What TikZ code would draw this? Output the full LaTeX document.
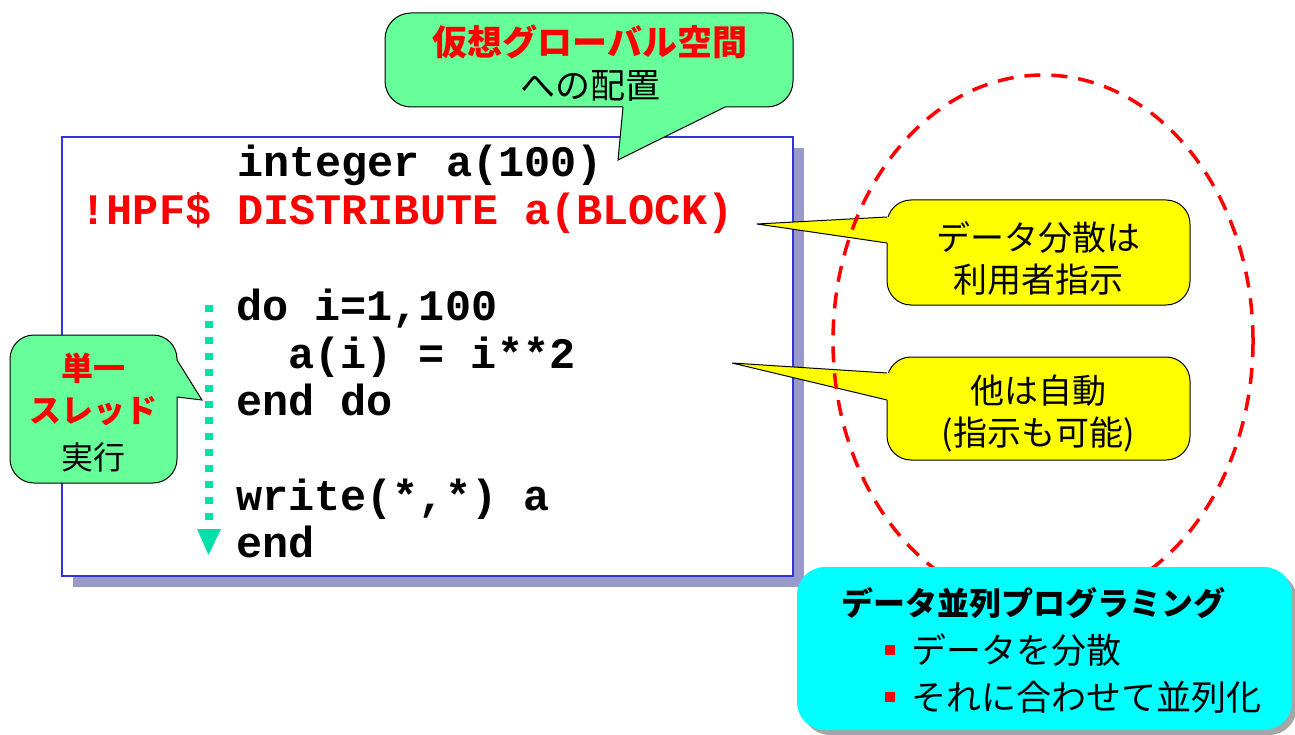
\documentclass[tikz,border=0pt]{standalone}
\usepackage{fontspec}
\setmainfont{Liberation Sans}
\newfontfamily\jp{Noto Sans CJK JP}
\newfontfamily\mono{Liberation Mono}
\definecolor{callgreen}{HTML}{66FF99}
\definecolor{callyellow}{HTML}{FFFF00}
\definecolor{callcyan}{HTML}{00FFFF}
\definecolor{arrowteal}{HTML}{00E0A8}
\definecolor{boxshadow}{HTML}{9999CC}
\definecolor{boxblue}{HTML}{3333DD}
\definecolor{ellred}{HTML}{FF0000}
\begin{document}
\begin{tikzpicture}[x=1pt,y=-1pt,
  codeline/.style={anchor=base west, inner sep=0pt, font=\mono\bfseries\fontsize{43.5}{44}\selectfont},
  jptext/.style={inner sep=0pt, font=\jp\fontsize{#1}{#1}\selectfont},
  jpbold/.style={inner sep=0pt, font=\jp\bfseries\fontsize{#1}{#1}\selectfont},
  calloutbody/.style={draw=black, line width=1pt, fill=#1, rounded corners=26pt},
  tailfill/.style={fill=#1},
  tailline/.style={draw=black, line width=1pt, line join=miter},
]
\useasboundingbox (0,0) rectangle (1295,735);

% ---------- code box ----------
\fill[boxshadow] (73,148) rectangle (804,587);
\draw[boxblue, fill=white, line width=1.2pt] (62,137) rectangle (793,576);

\node[codeline] (l1) at (237,177) {integer a(100)};
\node[codeline, text=red] (l2) at (80.5,225) {!HPF\$ DISTRIBUTE a(BLOCK)};
\node[codeline] (l3) at (236,320) {do i=1,100};
\node[codeline] (l4) at (288,368) {a(i) = i**2};
\node[codeline] (l5) at (236,415) {end do};
\node[codeline] (l6) at (236,510) {write(*,*) a};
\node[codeline] (l7) at (236,557) {end};

% ---------- dotted arrow ----------
\coordinate (arS) at (208.5,305);
\coordinate (arE) at (208.5,530);
\coordinate (arT) at (208.5,555);
\draw[arrowteal, line width=8pt, dash pattern=on 7pt off 9pt] (arS) -- (arE);
\fill[arrowteal] (197,529) -- (221,529) -- (arT) -- cycle;

% ---------- top green callout ----------
\coordinate (tA) at (623,107);
\coordinate (tB) at (725,107);
\coordinate (tTip) at (618,160);
\draw[calloutbody=callgreen] (385,13) rectangle (793,107);
\fill[callgreen] (tA) -- (tTip) -- (tB) -- (725,104) -- (623,104) -- cycle;
\draw[tailline] (tA) -- (tTip) -- (tB);
\node[jpbold=35, text=red] (top1) at (590,42) {仮想グローバル空間};
\node[jptext=35] (top2) at (590,86) {への配置};

% ---------- left green callout ----------
\coordinate (lA) at (177,360);
\coordinate (lB) at (177,397);
\coordinate (lTip) at (202,400);
\draw[calloutbody=callgreen, rounded corners=24pt] (10,335) rectangle (177,483);
\fill[callgreen] (lA) -- (lTip) -- (lB) -- (174,397) -- (174,360) -- cycle;
\draw[tailline] (lA) -- (lTip) -- (lB);
\node[jpbold=32, text=red] (left1) at (93,368) {単一};
\node[jpbold=32, text=red] (left2) at (93,411) {スレッド};
\node[jptext=32] (left3) at (93,457) {実行};

% ---------- right yellow callouts ----------
\coordinate (r1A) at (887,217);
\coordinate (r1B) at (887,243);
\coordinate (r1Tip) at (757,224);
\draw[calloutbody=callyellow, rounded corners=24pt] (887,200) rectangle (1190,305);
\fill[callyellow] (r1A) -- (r1Tip) -- (r1B) -- (890,243) -- (890,217) -- cycle;
\draw[tailline] (r1A) -- (r1Tip) -- (r1B);
\node[jptext=34] (r1t1) at (1038,237) {データ分散は};
\node[jptext=34] (r1t2) at (1038,280) {利用者指示};

\coordinate (r2A) at (887,373);
\coordinate (r2B) at (887,400);
\coordinate (r2Tip) at (732,363);
\draw[calloutbody=callyellow, rounded corners=24pt] (887,357) rectangle (1190,460);
\fill[callyellow] (r2A) -- (r2Tip) -- (r2B) -- (890,400) -- (890,373) -- cycle;
\draw[tailline] (r2A) -- (r2Tip) -- (r2B);
\node[jptext=34] (r2t1) at (1038,391) {他は自動};
\node[jptext=34] (r2t2) at (1038,435) {(指示も可能)};

% ---------- dashed ellipse ----------
\draw[ellred, line width=3.5pt, dash pattern=on 16pt off 11pt] (1043,341) ellipse [x radius=210, y radius=266];

% ---------- cyan box ----------
\fill[gray!70, rounded corners=28pt] (802,572) rectangle (1297,735);
\fill[callcyan, rounded corners=28pt] (797,567) rectangle (1292,730);
\node[jpbold=32] (cy0) at (1033,603) {データ並列プログラミング};
\fill[red] (885,645) rectangle (895,655);
\fill[red] (885,692) rectangle (895,702);
\node[jptext=35, anchor=west] (cy1) at (911,650) {データを分散};
\node[jptext=35, anchor=west] (cy2) at (911,697) {それに合わせて並列化};
\end{tikzpicture}
\end{document}
